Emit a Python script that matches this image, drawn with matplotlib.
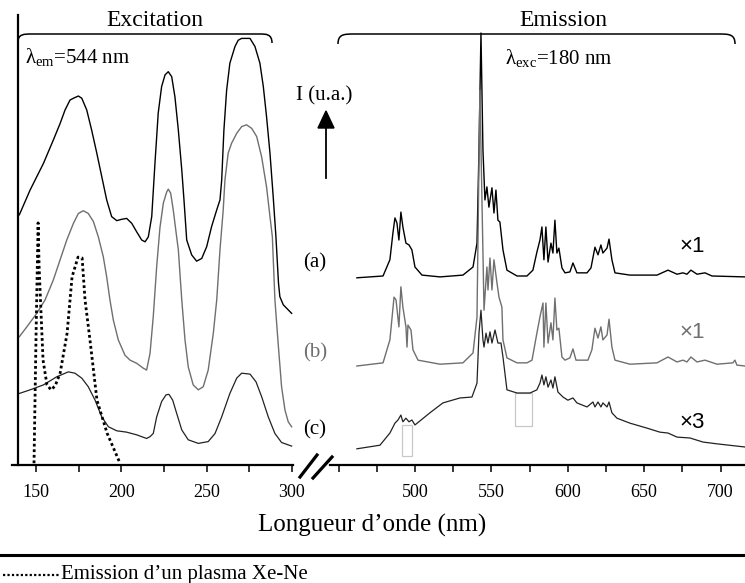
import matplotlib
matplotlib.use("Agg")
import matplotlib.pyplot as plt
from matplotlib.patches import Rectangle, PathPatch, Polygon
from matplotlib.path import Path
from matplotlib.lines import Line2D

plt.rcParams['font.family'] = ['Liberation Serif', 'DejaVu Serif']
plt.rcParams['mathtext.fontset'] = 'custom'
plt.rcParams['mathtext.rm'] = 'Liberation Serif'
plt.rcParams['mathtext.it'] = 'Liberation Serif:italic'

# ---------------- data (wavelength nm, intensity a.u.) ----------------
# Excitation spectra (lambda_em = 544 nm)
exc_a_wl = [140.2, 146.5, 154.3, 160.1, 164.1, 167.0, 169.9, 171.9, 174.8, 176.8, 179.7, 182.6,
            185.6, 188.5, 191.4, 194.3, 197.3, 200.2, 203.1, 206.1, 209.0, 211.9, 213.9, 215.8,
            217.8, 219.7, 221.6, 223.6, 225.6, 227.5, 229.5, 231.4, 233.4, 235.4, 236.7, 238.3,
            241.2, 244.1, 247.1, 250.0, 252.9, 255.9, 257.8, 258.8, 260.1, 261.7, 263.6, 266.6,
            268.5, 270.5, 275.4, 278.3, 281.2, 283.2, 285.1, 287.1, 289.0, 290.6, 292.1, 292.9,
            294.9, 299.8]
exc_a_I = [55.6, 61.1, 67.0, 72.2, 75.9, 78.9, 81.1, 81.5, 82.0, 81.5, 78.9, 74.4,
           69.3, 64.1, 58.9, 55.2, 54.3, 54.6, 54.8, 53.7, 51.8, 50.0, 49.6, 50.7,
           55.2, 67.1, 78.2, 84.1, 86.7, 87.4, 86.3, 81.8, 74.4, 65.6, 58.9, 50.0,
           46.7, 45.3, 45.9, 48.5, 53.0, 56.7, 58.9, 63.3, 74.4, 83.3, 89.3, 93.0,
           94.4, 94.8, 94.8, 93.0, 89.3, 84.1, 77.4, 69.3, 59.6, 50.7, 40.4, 37.4,
           35.6, 33.7]

exc_b_wl = [140.2, 144.6, 150.4, 155.3, 160.1, 164.1, 168.0, 171.9, 174.8, 177.7, 180.6, 183.6,
            186.5, 189.4, 191.4, 193.3, 195.3, 198.2, 202.1, 205.1, 209.0, 212.9, 214.8, 216.8,
            218.7, 220.7, 222.6, 224.6, 226.6, 227.5, 228.9, 230.4, 232.4, 233.4, 235.4, 237.3,
            239.2, 242.1, 245.1, 248.0, 250.9, 253.9, 255.9, 257.8, 259.7, 260.7, 262.6, 264.6,
            267.6, 270.5, 273.4, 276.4, 279.3, 282.2, 285.1, 287.1, 288.5, 290.0, 291.9, 293.9,
            295.9, 297.8, 299.8]
exc_b_I = [28.5, 30.7, 33.7, 36.7, 41.1, 45.6, 50.0, 53.7, 55.9, 56.5, 55.9, 54.1,
           50.7, 46.3, 41.8, 36.7, 32.2, 27.8, 24.4, 23.3, 22.6, 21.5, 21.1, 24.8,
           33.0, 44.1, 52.7, 58.2, 60.7, 61.3, 60.4, 56.7, 50.7, 47.8, 36.7, 27.8,
           21.8, 17.8, 16.7, 17.4, 21.1, 29.3, 36.7, 47.8, 56.7, 63.3, 69.3, 71.5,
           73.7, 75.2, 75.6, 74.8, 73.0, 68.5, 61.8, 55.2, 50.7, 36.7, 27.0, 17.4,
           12.2, 9.6, 8.5]

exc_c_wl = [140.2, 146.5, 154.3, 162.1, 168.9, 172.8, 176.8, 180.6, 184.6, 188.5, 192.4, 197.3,
            203.1, 209.0, 214.8, 216.8, 218.7, 220.7, 223.6, 226.2, 227.9, 230.1, 232.4, 235.4,
            239.2, 245.1, 250.9, 254.9, 258.8, 263.6, 267.6, 270.5, 275.4, 278.9, 282.2, 286.1,
            290.0, 293.9, 299.8]
exc_c_I = [15.9, 16.7, 17.8, 19.6, 20.7, 20.4, 19.3, 17.4, 14.4, 10.7, 8.5, 7.6,
           7.3, 6.7, 5.9, 6.3, 7.0, 10.7, 14.1, 15.6, 15.7, 14.4, 11.5, 7.8,
           5.6, 4.8, 5.2, 7.0, 10.7, 15.9, 19.3, 20.4, 20.2, 18.5, 15.2, 10.7,
           7.0, 5.0, 4.2]

# Xe-Ne plasma emission (dotted)
plasma_wl = [148.8, 150.0, 151.2, 151.8, 153.0, 154.1, 156.4, 158.8, 161.2, 164.1, 168.2, 171.1,
             174.6, 177.0, 178.7, 181.6, 185.7, 191.6, 199.2]
plasma_I = [0.4, 29.0, 53.8, 44.0, 33.0, 23.3, 17.8, 16.7, 17.6, 20.4, 29.3, 41.8,
            46.2, 46.0, 36.7, 27.8, 14.4, 7.1, 0.4]

# Emission spectra (lambda_exc = 180 nm)
em_a_wl = [462.0, 479.1, 483.6, 485.6, 486.9, 488.2, 489.5, 490.8, 492.1, 494.1, 496.1, 498.0,
           500.0, 504.6, 516.4, 531.4, 538.0, 540.6, 541.9, 543.2, 544.5, 545.8, 547.1, 548.4,
           550.4, 551.7, 553.0, 554.3, 555.6, 557.6, 560.2, 566.8, 573.3, 577.2, 579.8, 581.8,
           583.1, 584.4, 585.7, 587.1, 589.0, 590.3, 591.6, 592.9, 594.2, 596.2, 598.2, 601.4,
           603.4, 606.0, 612.6, 615.2, 617.8, 619.8, 621.7, 623.0, 625.7, 627.0, 628.9, 630.9,
           640.7, 658.4, 665.6, 671.5, 675.4, 678.0, 680.6, 684.6, 689.8, 694.4, 716.0]
em_a_I = [41.6, 42.0, 45.6, 51.6, 54.9, 53.8, 50.0, 56.2, 52.9, 49.3, 48.9, 47.8,
          44.0, 42.2, 41.8, 42.2, 44.0, 49.3, 70.0, 96.0, 70.0, 58.9, 61.8, 57.3,
          61.6, 56.0, 61.1, 54.4, 54.0, 47.8, 43.3, 42.0, 42.0, 43.3, 47.3, 50.0,
          52.9, 45.6, 52.9, 45.1, 49.3, 47.1, 54.4, 47.1, 48.2, 43.8, 42.7, 42.9,
          44.9, 42.7, 42.7, 43.8, 48.4, 46.7, 48.9, 47.1, 48.2, 50.2, 45.6, 42.7,
          42.2, 42.2, 43.3, 42.4, 42.7, 42.4, 43.3, 42.4, 42.7, 42.0, 41.8]

em_b_wl = [462.0, 479.1, 483.6, 486.3, 487.6, 489.5, 490.8, 492.1, 494.1, 494.8, 495.4, 497.4,
           498.7, 502.0, 516.4, 531.4, 538.0, 540.6, 542.5, 545.2, 547.1, 547.8, 549.1, 550.4,
           551.7, 553.7, 555.0, 556.9, 557.6, 560.2, 566.8, 573.3, 576.6, 579.8, 581.8, 583.8,
           584.4, 585.7, 587.1, 589.0, 590.3, 591.6, 592.9, 594.2, 596.2, 598.2, 601.4, 603.4,
           605.4, 613.2, 615.8, 617.8, 619.8, 621.7, 623.0, 625.7, 627.0, 628.9, 630.9, 640.7,
           658.4, 665.6, 671.5, 675.4, 678.0, 680.6, 684.6, 689.8, 697.7, 708.1, 709.4, 710.7, 716.0]
em_b_I = [22.0, 22.7, 27.8, 37.3, 36.7, 30.7, 39.6, 35.1, 30.7, 26.2, 31.1, 30.0,
          25.6, 23.3, 22.4, 22.7, 24.9, 32.9, 83.3, 34.4, 44.0, 38.9, 46.0, 38.9,
          45.6, 40.4, 37.3, 35.1, 27.8, 23.8, 22.7, 22.7, 23.3, 29.3, 32.9, 36.0,
          26.2, 36.0, 27.1, 31.6, 27.8, 37.1, 30.0, 30.4, 24.0, 23.3, 23.8, 25.8,
          23.3, 23.3, 25.6, 30.4, 28.2, 30.7, 27.8, 28.9, 32.4, 26.2, 23.3, 22.4,
          22.7, 24.0, 22.9, 23.3, 22.9, 24.0, 22.9, 23.3, 22.4, 22.7, 23.3, 22.2, 22.0]

em_c_wl = [462.0, 477.1, 483.6, 486.9, 488.9, 490.8, 492.1, 494.1, 496.1, 498.0, 500.0, 509.8,
           518.3, 529.5, 537.3, 540.6, 541.9, 543.2, 544.5, 545.2, 546.5, 547.8, 549.1, 550.4,
           552.4, 554.3, 556.3, 557.6, 560.2, 566.8, 575.3, 579.8, 581.8, 583.1, 584.4, 585.7,
           587.1, 589.0, 590.3, 591.6, 593.6, 596.9, 600.1, 603.4, 606.0, 612.6, 616.5, 617.8,
           619.8, 621.7, 623.0, 625.7, 627.0, 628.9, 632.2, 640.7, 651.8, 660.3, 665.6, 671.5,
           680.0, 688.5, 697.7, 716.0]
em_c_I = [3.6, 4.4, 7.1, 9.3, 10.0, 11.1, 9.6, 10.4, 9.6, 10.0, 8.9, 11.6,
          13.8, 14.9, 15.1, 18.2, 29.3, 34.4, 27.8, 26.2, 29.3, 27.1, 29.6, 27.1,
          30.0, 27.1, 27.1, 24.0, 16.7, 16.0, 16.0, 16.7, 18.2, 20.0, 17.8, 19.6,
          17.3, 18.9, 17.1, 19.6, 16.2, 15.1, 14.4, 14.9, 13.8, 12.9, 14.0, 12.9,
          14.0, 12.9, 13.8, 12.9, 14.0, 11.6, 10.4, 9.3, 8.2, 7.3, 7.1, 6.2,
          6.0, 5.1, 4.7, 4.0]

# light-grey marker boxes on emission (c): (wl_min, wl_max), (I_min, I_max)
box_wl = [(491.5, 498.0), (565.5, 576.6)]
box_I = [(2.0, 8.9), (8.7, 16.0)]

exc_ticks = [150, 200, 250, 300]
exc_minor = [175, 225, 275]
em_ticks = [500, 550, 600, 650, 700]
em_minor = [450, 475, 525, 575, 625, 675]

series_labels = ['(a)', '(b)', '(c)']
scale_labels = ['\u00d71', '\u00d71', '\u00d73']

# ---------------- figure ----------------
W, H = 745, 583
fig = plt.figure(figsize=(W / 100, H / 100), dpi=100)

def fx(px):
    return px / W

def fy(py):
    return 1 - py / H

GRAY = '#6f6f6f'
ax_bottom = fy(465)
ax_h = (465 - 15) / H

axL = fig.add_axes([fx(12), ax_bottom, (293 - 12) / W, ax_h])
axR = fig.add_axes([fx(330), ax_bottom, (745 - 330) / W, ax_h])

for ax in (axL, axR):
    ax.set_ylim(0, 100)
    ax.set_facecolor('none')
    for s in ('top', 'right'):
        ax.spines[s].set_visible(False)
    ax.spines['bottom'].set_linewidth(1.6)
    ax.set_yticks([])
    ax.tick_params(axis='x', which='both', direction='out', width=1.1, colors='black',
                   labelsize=13, pad=9, length=5)

axL.set_xlim(135.9, 300.6)
axL.spines['left'].set_position(('data', 139.5))
axL.spines['left'].set_linewidth(1.6)
axL.set_xticks(exc_ticks)
axL.set_xticks(exc_minor, minor=True)

axR.set_xlim(444.4, 716.0)
axR.spines['left'].set_visible(False)
axR.set_xticks(em_ticks)
axR.set_xticks(em_minor, minor=True)

# excitation curves
axL.plot(exc_a_wl, exc_a_I, color='black', lw=1.0)
axL.plot(exc_b_wl, exc_b_I, color=GRAY, lw=1.0)
axL.plot(exc_c_wl, exc_c_I, color='#222222', lw=0.9)
axL.plot(plasma_wl, plasma_I, color='black', lw=2.0, linestyle=(0, (1, 1)))

# emission curves
axR.plot(em_a_wl, em_a_I, color='black', lw=1.0)
axR.plot(em_b_wl, em_b_I, color=GRAY, lw=1.0)
axR.plot(em_c_wl, em_c_I, color='#222222', lw=0.9)
for (w0, w1), (i0, i1) in zip(box_wl, box_I):
    axR.add_patch(Rectangle((w0, i0), w1 - w0, i1 - i0, fill=False,
                            edgecolor='#c8c8c8', lw=0.9))

# ---------------- annotations ----------------
fig.text(fx(155), fy(20), 'Excitation', ha='center', va='center', fontsize=17)
fig.text(fx(563), fy(21), 'Emission', ha='center', va='center', fontsize=17)
fig.text(fx(25), fy(57), r'$\mathrm{\lambda}_{\mathrm{em}}$=544 nm', ha='left', va='center', fontsize=15)
fig.text(fx(505), fy(58), r'$\mathrm{\lambda}_{\mathrm{exc}}$=180 nm', ha='left', va='center', fontsize=15)
fig.text(fx(324), fy(96), 'I (u.a.)', ha='center', va='center', fontsize=15)

# arrow
fig.add_artist(Line2D([fx(326), fx(326)], [fy(178), fy(125)], color='black', lw=1.3,
                      transform=fig.transFigure))
fig.add_artist(Polygon([[fx(318), fy(128)], [fx(334), fy(128)], [fx(326), fy(111)]],
                       closed=True, color='black', transform=fig.transFigure))

cols = ['black', GRAY, 'black']
for lab, py, c in zip(series_labels, [263, 353, 430], cols):
    fig.text(fx(315), fy(py), lab, ha='center', va='center', fontsize=15, color=c)
for lab, py, c in zip(scale_labels, [247, 332, 423], cols):
    fig.text(fx(692), fy(py), lab, ha='center', va='center', fontsize=16, color=c,
             family=['Liberation Sans', 'DejaVu Sans'])

# braces
def brace(x0, y0, xa, xb, y, x1, y1):
    verts = [(fx(x0), fy(y0)),
             (fx(x0), fy(y)), (fx(x0 + 6), fy(y)), (fx(xa), fy(y)),
             (fx(xb), fy(y)),
             (fx(x1 - 6), fy(y)), (fx(x1), fy(y)), (fx(x1), fy(y1))]
    codes = [Path.MOVETO, Path.CURVE4, Path.CURVE4, Path.CURVE4, Path.LINETO,
             Path.CURVE4, Path.CURVE4, Path.CURVE4]
    fig.add_artist(PathPatch(Path(verts, codes), fill=False, lw=1.1, edgecolor='black',
                             transform=fig.transFigure))

brace(18, 42, 32, 260, 34, 272, 43)
brace(338, 44, 355, 718, 34, 735, 44)

# axis break marks
for (xa, ya, xb, yb) in [(300, 477, 317, 455), (313, 478, 332, 457)]:
    fig.add_artist(Line2D([fx(xa), fx(xb)], [fy(ya), fy(yb)], color='black', lw=2.3,
                          transform=fig.transFigure))

fig.text(fx(372), fy(525), 'Longueur d\u2019onde (nm)', ha='center', va='center', fontsize=18)

# bottom rule and legend
fig.add_artist(Line2D([0, 1], [fy(555), fy(555)], color='black', lw=2.2, transform=fig.transFigure))
fig.add_artist(Line2D([fx(3), fx(60)], [fy(575), fy(575)], color='black', lw=1.6,
                      linestyle=(0, (1, 1)), transform=fig.transFigure))
fig.text(fx(61), fy(575), 'Emission d\u2019un plasma Xe-Ne', ha='left', va='center', fontsize=15)

fig.savefig('out.png', dpi=100)
